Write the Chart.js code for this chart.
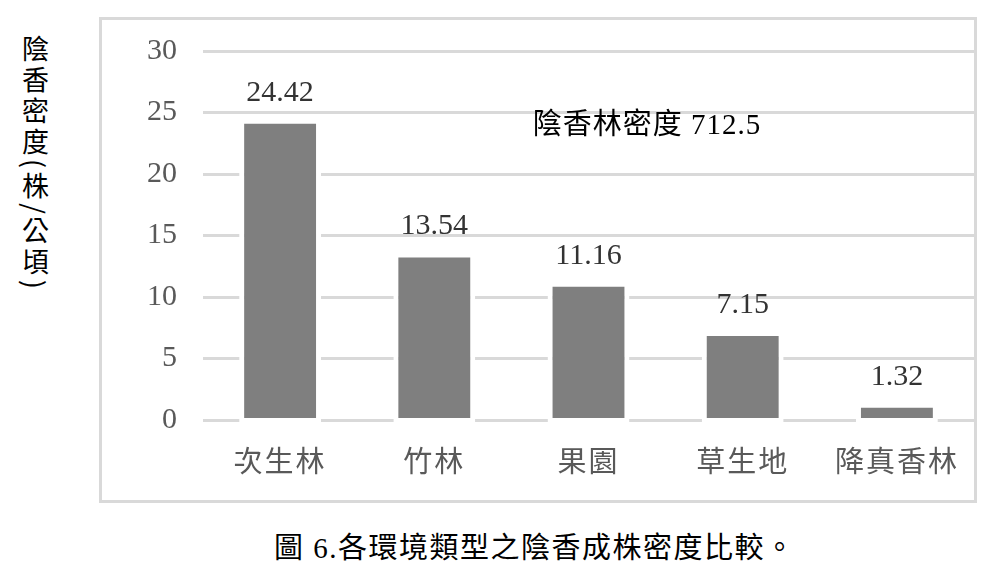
<!DOCTYPE html>
<html><head><meta charset="utf-8">
<script src="https://cdn.jsdelivr.net/npm/chart.js@4/dist/chart.umd.min.js"></script>
<style>
html,body{margin:0;padding:0;background:#fff;}
body{width:1007px;height:579px;position:relative;overflow:hidden;}
#box{position:absolute;left:99px;top:17px;width:872px;height:480px;border:3px solid #d9d9d9;}
#ytitle{position:absolute;left:21px;top:35px;writing-mode:vertical-rl;font-family:'Noto Sans CJK TC';font-size:27px;letter-spacing:4px;line-height:28px;color:#000;white-space:nowrap;}
#caption{position:absolute;left:274px;top:534px;font-family:'Liberation Serif','Noto Sans CJK TC';font-size:29px;letter-spacing:1.5px;line-height:29px;white-space:nowrap;color:#000;}
</style></head>
<body>
<div id="ytitle">陰香密度(株/公頃)</div>
<div id="box"><canvas id="c"></canvas></div>
<div id="caption">圖 6.各環境類型之陰香成株密度比較。</div>
<script>
const categories = ['次生林', '竹林', '果園', '草生地', '降真香林'];
const densities = [24.42, 13.54, 11.16, 7.15, 1.32];
const yTicks = [0, 5, 10, 15, 20, 25, 30];
const noteText = '陰香林密度 712.5';

const xLetterSpacing = {
  id: 'xLetterSpacing',
  beforeDraw(chart) {
    const sc = chart.scales.x;
    if (!sc.__patched) {
      const orig = sc.drawLabels;
      sc.drawLabels = function (area) {
        const c = this.ctx;
        c.save();
        c.letterSpacing = '2px';
        orig.call(this, area);
        c.restore();
      };
      sc.__patched = true;
    }
  }
};

const valueLabels = {
  id: 'valueLabels',
  afterDatasetsDraw(chart) {
    const ctx = chart.ctx;
    const meta = chart.getDatasetMeta(0);
    ctx.save();
    ctx.font = "30px 'Liberation Serif'";
    ctx.fillStyle = '#333333';
    ctx.textAlign = 'center';
    ctx.textBaseline = 'alphabetic';
    meta.data.forEach((bar, i) => {
      ctx.fillText(densities[i].toFixed(2), bar.x, bar.y - 19);
    });
    const ca = chart.chartArea;
    ctx.font = "29px 'Liberation Serif','Noto Sans CJK TC'";
    ctx.fillStyle = '#000';
    ctx.textBaseline = 'middle';
    ctx.letterSpacing = '1px';
    ctx.fillText(noteText, ca.left + 0.576 * (ca.right - ca.left), chart.scales.y.getPixelForValue(23.9));
    ctx.restore();
  }
};

new Chart(document.getElementById('c'), {
  type: 'bar',
  data: {
    labels: categories,
    datasets: [{
      data: densities,
      backgroundColor: '#7f7f7f',
      borderColor: '#ffffff',
      borderWidth: {top: 4, left: 5, right: 5, bottom: 4},
      borderSkipped: false,
      base: -0.16,
      clip: false,
      barPercentage: 0.531,
      categoryPercentage: 1
    }]
  },
  options: {
    responsive: true,
    maintainAspectRatio: false,
    animation: false,
    layout: {padding: {top: 31, left: 0, right: 0, bottom: 0}},
    plugins: {legend: {display: false}, tooltip: {enabled: false}},
    scales: {
      x: {
        grid: {display: false},
        border: {display: false},
        ticks: {
          color: '#595959',
          font: {family: "'Noto Sans CJK TC'", size: 29},
          padding: 16,
          maxRotation: 0,
          autoSkip: false
        },
        afterFit(scale) { scale.height = 80; scale.paddingLeft = 0; scale.paddingRight = 0; }
      },
      y: {
        min: 0,
        max: 30,
        grid: {color: '#d9d9d9', lineWidth: 3, drawTicks: false},
        border: {display: false},
        ticks: {
          color: '#595959',
          font: {family: "'Liberation Serif'", size: 30},
          padding: 26
        },
        afterBuildTicks(scale) { scale.ticks = yTicks.map(v => ({value: v})); },
        afterFit(scale) { scale.width = 101; scale.paddingTop = 0; scale.paddingBottom = 0; }
      }
    }
  },
  plugins: [xLetterSpacing, valueLabels]
});
</script>
</body></html>
